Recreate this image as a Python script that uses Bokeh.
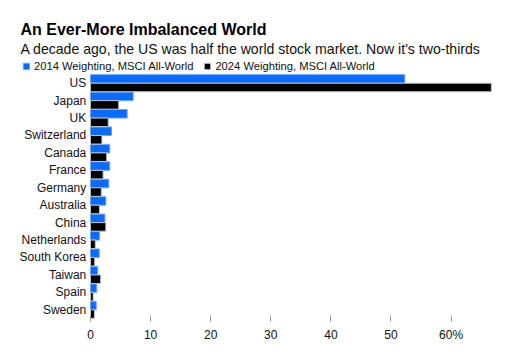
from bokeh.plotting import figure
from bokeh.models import ColumnDataSource, Label, Legend, LegendItem, Range1d, FixedTicker
from bokeh.core.properties import value
from bokeh.embed import file_html
from bokeh.resources import INLINE

countries = ["US", "Japan", "UK", "Switzerland", "Canada", "France", "Germany",
             "Australia", "China", "Netherlands", "South Korea", "Taiwan", "Spain", "Sweden"]
w2014 = [52.3, 7.1, 6.1, 3.5, 3.2, 3.2, 3.05, 2.55, 2.4, 1.5, 1.45, 1.2, 1.05, 0.95]
w2024 = [66.7, 4.7, 2.95, 1.9, 2.7, 2.1, 1.8, 1.5, 2.55, 0.8, 0.7, 1.7, 0.45, 0.65]
tick_values = [0, 10, 20, 30, 40, 50, 60]
tick_labels = {0: "0", 10: "10", 20: "20", 30: "30", 40: "40", 50: "50", 60: "60%"}

title = "An Ever-More Imbalanced World"
subtitle = "A decade ago, the US was half the world stock market. Now it's two-thirds"
series_names = ["2014 Weighting, MSCI All-World", "2024 Weighting, MSCI All-World"]

BLUE = "#0a6cff"
BLACK = "#000000"
FONT = "Liberation Sans"

n = len(countries)
pos = [n - 1 - i for i in range(n)]  # US at top
src = ColumnDataSource(dict(country=countries, pos=pos,
                            y14=[v + 0.245 for v in pos], y24=[v - 0.245 for v in pos],
                            w2014=w2014, w2024=w2024,
                            lx=[-0.7] * n))

p = figure(width=528, height=354, output_backend="svg", toolbar_location=None,
           x_range=Range1d(-14.975, 72.88), y_range=Range1d(-0.5, 17.745),
           min_border_left=0, min_border_right=0, min_border_top=0, min_border_bottom=36)
p.outline_line_color = None
p.grid.grid_line_color = None
p.yaxis.visible = False
p.background_fill_color = "white"
p.border_fill_color = "white"

r1 = p.hbar(y="y14", right="w2014", left=0, height=0.49, source=src,
            fill_color=BLUE, line_color="#6aa5ff", line_width=1)
r2 = p.hbar(y="y24", right="w2024", left=0, height=0.49, source=src,
            fill_color=BLACK, line_color="#c4c4c4", line_width=1)

p.text(x="lx", y="pos", text="country", source=src, text_align="right",
       text_baseline="middle", text_font=value(FONT), text_font_size="12px",
       text_color="#111111")

xa = p.xaxis[0]
xa.ticker = FixedTicker(ticks=tick_values)
xa.major_label_overrides = tick_labels
xa.axis_line_color = None
xa.major_tick_line_color = "#999999"
xa.major_tick_in = 3
xa.major_tick_out = 3
xa.minor_tick_line_color = None
xa.major_label_text_font = FONT
xa.major_label_text_font_size = "12px"
xa.major_label_text_color = "#111111"
xa.major_label_standoff = 6

legend = Legend(items=[LegendItem(label=series_names[0], renderers=[r1]),
                       LegendItem(label=series_names[1], renderers=[r2])],
                orientation="horizontal", location=(22, 246),
                label_text_font=FONT, label_text_font_size="11.2px",
                label_text_color="#111111",
                glyph_width=8, glyph_height=8, label_standoff=4, spacing=10,
                padding=0, margin=0, border_line_color=None, background_fill_alpha=0,
                label_height=10)
p.add_layout(legend, "center")

p.add_layout(Label(x=20, y=289, x_units="screen", y_units="screen", text=title,
                   text_baseline="alphabetic",
                   text_font=FONT, text_font_style="bold", text_font_size="16px",
                   text_color="#000000"))
p.add_layout(Label(x=20, y=270, x_units="screen", y_units="screen", text=subtitle,
                   text_baseline="alphabetic",
                   text_font=FONT, text_font_size="14.1px", text_color="#111111"))

open("out.html", "w").write(file_html(p, INLINE))
